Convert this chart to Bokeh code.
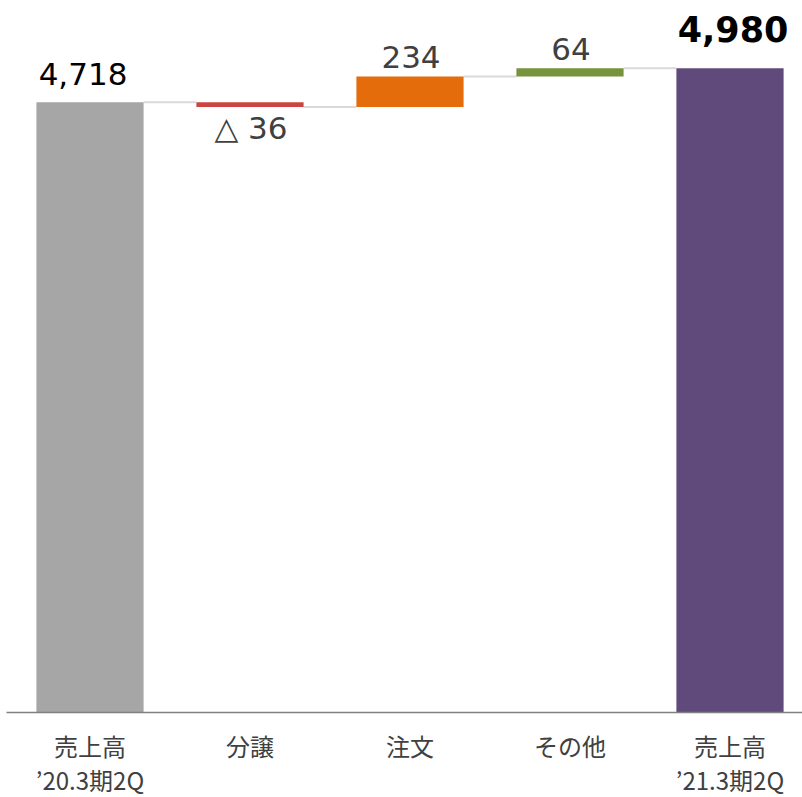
from bokeh.plotting import figure
from bokeh.models import ColumnDataSource, FixedTicker, Range1d
from bokeh.core.properties import value
from bokeh.embed import file_html
from bokeh.resources import INLINE

# ---- data ----
categories = ["売上高\n’20.3期2Q", "分譲", "注文", "その他", "売上高\n’21.3期2Q"]
start_total = 4718
deltas = [-36, 234, 64]
end_total = 4980
label_texts = ["4,718", "△ 36", "234", "64", "4,980"]

# ---- styles ----
colors = ["#A6A6A6", "#CC4442", "#E46C0A", "#77933C", "#604A7B"]
label_colors = ["#000000", "#404040", "#404040", "#404040", "#000000"]
label_x_off = [-7, 1, 1, 1, 3]
label_y_off = [-28, 21, -20, -19, -39]   # px, relative to anchor, positive = down

# ---- derived geometry ----
n = len(categories)
xs = list(range(n))
bottoms, tops = [0], [start_total]
level = start_total
for d in deltas:
    new = level + d
    bottoms.append(min(level, new))
    tops.append(max(level, new))
    level = new
bottoms.append(0)
tops.append(end_total)

anchors = []
for i in range(n):
    if 0 < i < n - 1 and deltas[i - 1] < 0:
        anchors.append(bottoms[i])
    else:
        anchors.append(tops[i])

bar_w = 0.67
levels = [start_total]
lv = start_total
for d in deltas:
    lv += d
    levels.append(lv)
cx0 = [xs[i] + bar_w / 2 for i in range(n - 1)]
cx1 = [xs[i + 1] - bar_w / 2 for i in range(n - 1)]

x0 = -83.5 / 160
p = figure(frame_width=796, frame_height=704, output_backend="svg",
           toolbar_location=None, min_border=0, min_border_left=6, min_border_top=8,
           x_range=Range1d(x0, x0 + 796 / 160),
           y_range=Range1d(0, 704 / 0.12935))
p.outline_line_color = None
p.xgrid.visible = False
p.ygrid.visible = False
p.yaxis.visible = False
p.background_fill_color = "white"
p.border_fill_color = "white"

p.segment(x0=cx0, y0=levels, x1=cx1, y1=levels, line_color="#D9D9D9", line_width=2)

src = ColumnDataSource(dict(x=xs, bottom=bottoms, top=tops, color=colors))
p.vbar(x="x", width=bar_w, bottom="bottom", top="top", fill_color="color",
       line_color=None, source=src)

reg = [0, 1, 2, 3]
p.text(x=[xs[i] for i in reg], y=[anchors[i] for i in reg], text=[label_texts[i] for i in reg],
       text_color=[label_colors[i] for i in reg],
       x_offset=[label_x_off[i] for i in reg], y_offset=[label_y_off[i] for i in reg],
       text_font=value("DejaVu Sans"), text_font_size="31px",
       text_align="center", text_baseline="alphabetic")
p.text(x=[xs[4]], y=[anchors[4]], text=[label_texts[4]], text_color=label_colors[4],
       x_offset=label_x_off[4], y_offset=label_y_off[4],
       text_font=value("DejaVu Sans"), text_font_size="35px", text_font_style="bold",
       text_align="center", text_baseline="alphabetic")

ax = p.xaxis[0]
ax.ticker = FixedTicker(ticks=xs)
ax.major_label_overrides = {i: categories[i] for i in xs}
ax.major_tick_line_color = None
ax.minor_tick_line_color = None
ax.axis_line_color = "#808080"
ax.axis_line_width = 1.5
ax.major_label_text_font = "Noto Sans CJK JP"
ax.major_label_text_font_size = "24px"
ax.major_label_text_color = "#404040"
ax.major_label_text_line_height = 0.98
ax.major_label_standoff = 9

open("out.html", "w").write(file_html(p, INLINE))
